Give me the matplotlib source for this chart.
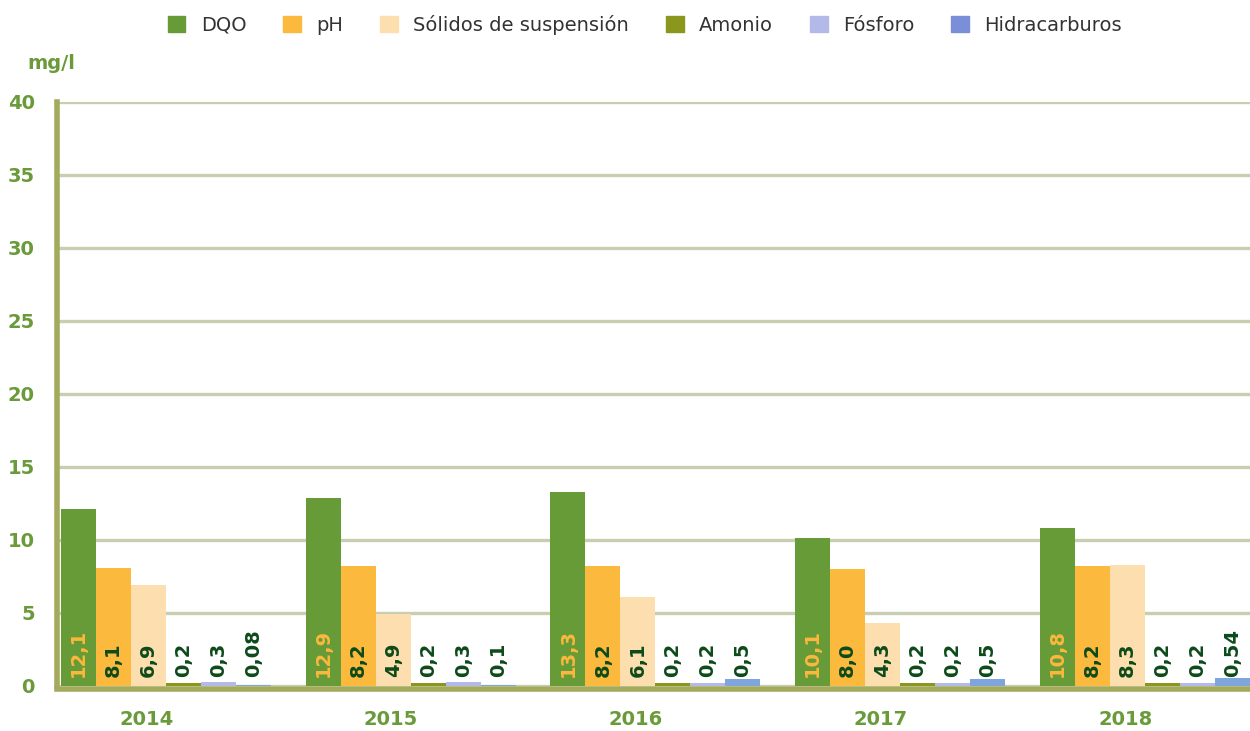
import numpy as np
import matplotlib.pyplot as plt
from matplotlib.patches import Patch

plt.rcParams['font.family'] = ['DejaVu Sans']

years = ['2014', '2015', '2016', '2017', '2018']
series = ['DQO', 'pH', 'Sólidos de suspensión', 'Amonio', 'Fósforo', 'Hidracarburos']
dqo = [12.1, 12.9, 13.3, 10.1, 10.8]
ph = [8.1, 8.2, 8.2, 8.0, 8.2]
solidos = [6.9, 4.9, 6.1, 4.3, 8.3]
amonio = [0.2, 0.2, 0.2, 0.2, 0.2]
fosforo = [0.3, 0.3, 0.2, 0.2, 0.2]
hidra = [0.08, 0.1, 0.5, 0.5, 0.54]
values = [dqo, ph, solidos, amonio, fosforo, hidra]
labels = [
    ['12,1', '12,9', '13,3', '10,1', '10,8'],
    ['8,1', '8,2', '8,2', '8,0', '8,2'],
    ['6,9', '4,9', '6,1', '4,3', '8,3'],
    ['0,2', '0,2', '0,2', '0,2', '0,2'],
    ['0,3', '0,3', '0,2', '0,2', '0,2'],
    ['0,08', '0,1', '0,5', '0,5', '0,54'],
]
bar_colors = ['#679b38', '#fbb93d', '#fddeaf', '#8a961c', '#b3b9e8', '#7ea6dc']
legend_colors = ['#679b38', '#fbb93d', '#fddeaf', '#8a961c', '#b3b9e8', '#7b8fd8']

green = '#6a9a3a'
fig = plt.figure(figsize=(12.5, 7.31), dpi=100)
ax = fig.add_axes([0.0456, 0.0616, 0.9544, 0.799])

# spines first (repositioning a spine resets the ticks)
for s in ['top', 'right']:
    ax.spines[s].set_visible(False)
ax.spines['left'].set_color('#a3aa5c')
ax.spines['left'].set_linewidth(4)
ax.spines['bottom'].set_color('#a3aa5c')
ax.spines['bottom'].set_linewidth(4)
ax.spines['bottom'].set_position(('outward', 2))
ax.spines['bottom'].set_zorder(5)

x = np.arange(len(years))
w = 0.143
for j, (vals, col) in enumerate(zip(values, bar_colors)):
    pos = x + (j - 2.5) * w
    ax.bar(pos, vals, width=w, color=col, zorder=3)
    for p, lab in zip(pos, labels[j]):
        ax.text(p, 0.6, lab, rotation=90, ha='center', va='bottom',
                fontsize=14, fontweight='bold',
                color='#fbb93d' if j == 0 else '#0d4a1a', zorder=4)

ax.set_xlim(-0.445, 4.429)
ax.set_ylim(0, 40)
ax.set_yticks(range(0, 41, 5))
ax.set_yticklabels([str(v) for v in range(0, 41, 5)], fontweight='bold')
ax.yaxis.grid(True, color='#c8cfb0', linewidth=2.4, zorder=0)
ax.set_axisbelow(True)
ax.set_xticks(x - 0.08)
ax.set_xticklabels(years, fontweight='bold')
ax.tick_params(length=0, labelsize=14, labelcolor=green)
ax.tick_params(axis='y', pad=16)
ax.tick_params(axis='x', pad=15)

fig.text(0.022, 0.905, 'mg/l', fontsize=14, fontweight='bold', color=green)

handles = [Patch(color=c) for c in legend_colors]
fig.legend(handles, series, loc='center', bbox_to_anchor=(0.516, 0.966), ncol=6,
           frameon=False, fontsize=14, handlelength=0.9, handleheight=0.9,
           handletextpad=0.8, columnspacing=1.9, labelcolor='#333333')

fig.savefig('out.png', dpi=100)
